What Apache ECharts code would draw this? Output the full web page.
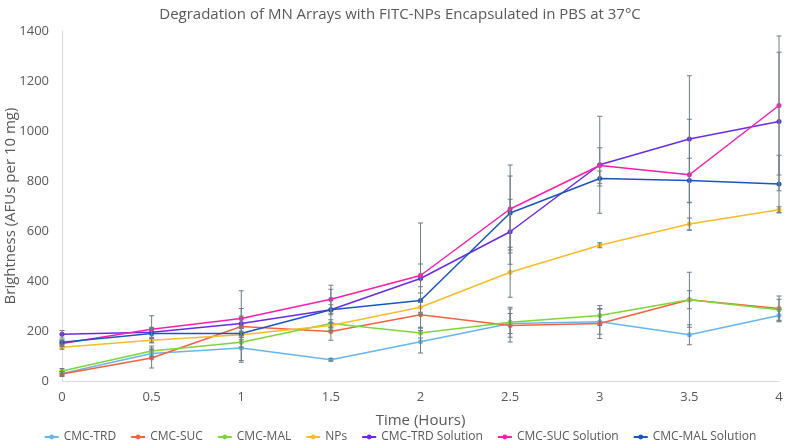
<!DOCTYPE html>
<html>
<head>
<meta charset="utf-8">
<script src="https://cdn.jsdelivr.net/npm/echarts@6/dist/echarts.min.js"></script>
<style>html,body{margin:0;padding:0;background:#fff;}#c{width:800px;height:447px;}</style>
</head>
<body>
<div id="c"></div>
<script>
const timeLabels = ['0','0.5','1','1.5','2','2.5','3','3.5','4'];
const yTicks = [0,200,400,600,800,1000,1200,1400];

const cmcTrd = [30, 110, 132, 85, 157, 230, 237, 185, 262];
const cmcSuc = [28, 92, 218, 198, 265, 222, 230, 325, 290];
const cmcMal = [40, 120, 155, 230, 192, 235, 262, 325, 285];
const nps = [135, 163, 185, 222, 295, 435, 543, 628, 685];
const trdSol = [187, 195, 230, 285, 410, 597, 865, 968, 1038];
const sucSol = [150, 207, 250, 327, 422, 688, 862, 825, 1102];
const malSol = [155, 190, 190, 285, 322, 672, 810, 802, 788];

const errTrd = [8, 15, 50, 5, 45, 40, 50, 40, 25];
const errSuc = [10, 40, 143, 35, 50, 66, 60, 110, 50];
const errMal = [10, 20, 20, 15, 20, 60, 40, 36, 42];
const errNps = [8, 10, 10, 10, 20, 100, 10, 24, 12];
const errTrdSol = [15, 20, 30, 20, 58, 130, 194, 253, 277];
const errSucSol = [12, 54, 40, 56, 210, 176, 71, 222, 278];
const errMalSol = [10, 20, 25, 82, 55, 148, 30, 89, 115];

const names = ['CMC-TRD','CMC-SUC','CMC-MAL','NPs','CMC-TRD Solution','CMC-SUC Solution','CMC-MAL Solution'];
const colors = ['#67b6ef','#f4623e','#7fd539','#fbbb2b','#6a2be6','#ff1cad','#1a56c2'];
const values = [cmcTrd, cmcSuc, cmcMal, nps, trdSol, sucSol, malSol];
const errors = [errTrd, errSuc, errMal, errNps, errTrdSol, errSucSol, errMalSol];

const font = '"Open Sans", "Noto Sans", sans-serif';
const series = [];
values.forEach((v, k) => {
  series.push({
    name: names[k], type: 'line', data: v,
    symbol: 'circle', symbolSize: 5,
    lineStyle: {width: 1.5, color: colors[k]},
    itemStyle: {color: colors[k]},
    z: 2
  });
});
values.forEach((v, k) => {
  series.push({
    type: 'custom', z: 3, silent: true,
    data: v.map((y, i) => [i, y, errors[k][i]]),
    renderItem: function (params, api) {
      const x = api.value(0), y = api.value(1), e = api.value(2);
      const t = api.coord([x, y + e]);
      const b = api.coord([x, y - e]);
      const w = 2.5;
      const st = {stroke: '#6e7d84', lineWidth: 1};
      return {type: 'group', children: [
        {type: 'line', shape: {x1: t[0], y1: t[1], x2: b[0], y2: b[1]}, style: st},
        {type: 'line', shape: {x1: t[0]-w, y1: t[1], x2: t[0]+w, y2: t[1]}, style: st},
        {type: 'line', shape: {x1: b[0]-w, y1: b[1], x2: b[0]+w, y2: b[1]}, style: st}
      ]};
    }
  });
});

const chart = echarts.init(document.getElementById('c'));
chart.setOption({
  animation: false,
  backgroundColor: '#ffffff',
  title: {
    text: 'Degradation of MN Arrays with FITC-NPs Encapsulated in PBS at 37°C',
    left: 'center', top: 2,
    textStyle: {fontFamily: font, fontSize: 15, fontWeight: 'normal', color: '#595959'}
  },
  legend: {
    data: names, bottom: -1, left: 'center', itemGap: 14, itemWidth: 14, itemHeight: 6,
    textStyle: {fontFamily: font, fontSize: 12, color: '#595959'}
  },
  grid: {left: 62, right: 21, top: 31, bottom: 66, containLabel: false, outerBoundsMode: 'none'},
  xAxis: {
    type: 'category', data: timeLabels, boundaryGap: false,
    name: 'Time (Hours)', nameLocation: 'middle', nameGap: 40, nameMoveOverlap: false,
    nameTextStyle: {fontFamily: font, fontSize: 15, color: '#595959', verticalAlign: 'middle'},
    axisLine: {lineStyle: {color: '#d9d9d9'}},
    axisTick: {show: false},
    axisLabel: {fontFamily: font, fontSize: 13, color: '#595959', margin: 10},
    splitLine: {show: false}
  },
  yAxis: {
    type: 'value', min: yTicks[0], max: yTicks[yTicks.length-1], interval: 200,
    name: 'Brightness (AFUs per 10 mg)', nameLocation: 'middle', nameGap: 51, nameMoveOverlap: false,
    nameTextStyle: {fontFamily: font, fontSize: 15, color: '#595959', verticalAlign: 'middle'},
    axisLine: {show: true, lineStyle: {color: '#d9d9d9'}},
    axisTick: {show: false},
    axisLabel: {fontFamily: font, fontSize: 13, color: '#595959', margin: 13, formatter: v => String(v)},
    splitLine: {show: false}
  },
  series: series
});
</script>
</body>
</html>
